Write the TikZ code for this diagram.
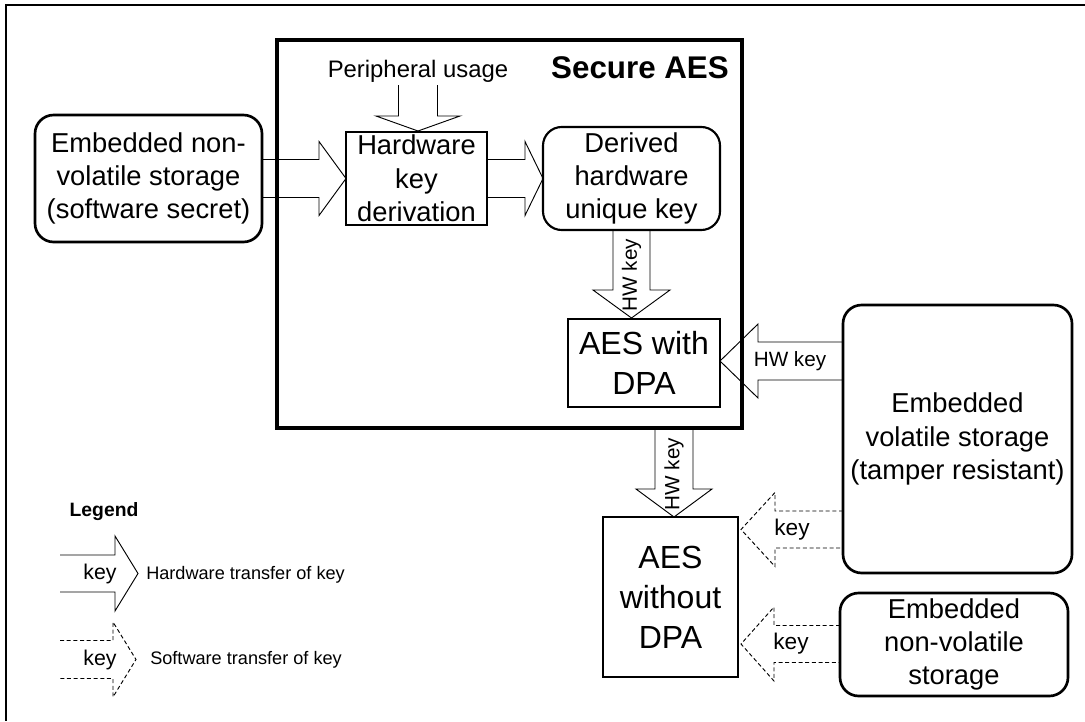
\documentclass[tikz,border=0pt]{standalone}
\usepackage{fontspec}
\setmainfont{Liberation Sans}
\newcommand{\harrow}[7]{\draw[#7] (#1,#4-#5) -- (#3,#4-#5) -- (#3,#4-#6) -- (#2,#4) -- (#3,#4+#6) -- (#3,#4+#5) -- (#1,#4+#5);}
\newcommand{\varrow}[7]{\draw[#7] (#4-#5,#1) -- (#4-#5,#3) -- (#4-#6,#3) -- (#4,#2) -- (#4+#6,#3) -- (#4+#5,#3) -- (#4+#5,#1);}
\begin{document}
\begin{tikzpicture}[x=0.75pt,y=-0.75pt,
  txt/.style={font=\fontsize{20.5pt}{25pt}\selectfont,align=center,inner sep=0pt},
  big/.style={font=\fontsize{24pt}{30pt}\selectfont,align=center,inner sep=0pt},
  rbox/.style={draw,line width=2pt,rounded corners=14pt,inner sep=0pt},
  sbox/.style={draw,line width=2.2pt,inner sep=0pt},
  hw/.style={line width=0.7pt},
  sw/.style={line width=0.7pt,dash pattern=on 3pt off 2pt},
  lab/.style={font=\fontsize{15.5pt}{18pt}\selectfont,inner sep=0pt},
  leg/.style={font=\fontsize{13.6pt}{16pt}\selectfont,inner sep=0pt,anchor=west}]
\useasboundingbox (0,0) rectangle (1085,721);
\draw[line width=1.8pt] (1085,5) -- (6,5) -- (6,721);
% boxes
\node[sbox,line width=2.6pt,minimum width=348.75pt,minimum height=291pt] (sec) at (509.5,234) {};
\node[font=\bfseries\fontsize{23.5pt}{28pt}\selectfont,inner sep=0pt] (sectitle) at (640,68) {Secure AES};
\node[rbox,minimum width=170.25pt,minimum height=95.25pt,txt] (left) at (148.5,178.5) {Embedded non-\\volatile storage\\(software secret)};
\node[sbox,minimum width=105.75pt,minimum height=69.75pt,txt] (hkd) at (416.5,178.5) {Hardware\\key\\derivation};
\node[rbox,line width=1.6pt,minimum width=132.75pt,minimum height=77.25pt,txt] (der) at (631.5,178.5) {Derived\\hardware\\unique key};
\node[sbox,minimum width=114pt,minimum height=66pt,big] (dpa) at (644,363) {AES with\\DPA};
\node[rbox,minimum width=171.75pt,minimum height=201pt,txt] (tam) at (957.5,439) {Embedded\\volatile storage\\(tamper resistant)};
\node[sbox,minimum width=101.25pt,minimum height=120pt,big] (nodpa) at (670.5,597) {AES\\without\\DPA};
\node[rbox,minimum width=171pt,minimum height=77.25pt,txt] (nv) at (954,644.5) {Embedded\\non-volatile\\storage};
\node[font=\fontsize{17.9pt}{20pt}\selectfont,inner sep=0pt] (periph) at (418,71) {Peripheral usage};
% arrows
\harrow{262}{346}{319}{178.5}{19}{37}{hw}
\harrow{487}{543}{525}{178.5}{19}{37}{hw}
\varrow{85}{131}{116}{418}{19.5}{42}{hw}
\varrow{230}{318}{290}{631.5}{18.5}{38.5}{hw}
\harrow{843}{720}{758}{361}{19}{37}{hw}
\varrow{428}{517}{489}{674}{19}{38}{hw}
\harrow{843}{741}{775}{529.5}{18.5}{37}{sw}
\harrow{840}{741}{774}{644}{18.5}{37}{sw}
\node[lab,rotate=90] (l1) at (631.5,275) {HW key};
\node[lab,rotate=90] (l2) at (674,474) {HW key};
\node[lab] (l3) at (790,361) {HW key};
\node[lab,font=\fontsize{17pt}{20pt}\selectfont] (l4) at (792,530) {key};
\node[lab,font=\fontsize{17pt}{20pt}\selectfont] (l5) at (791,644) {key};
% legend
\node[font=\bfseries\fontsize{14.5pt}{17pt}\selectfont,inner sep=0pt] (legend) at (104,512) {Legend};
\harrow{60}{138}{115}{573.5}{18.5}{37.5}{hw}
\harrow{60}{136}{113}{659.5}{19}{37.5}{sw}
\node[lab,font=\fontsize{16pt}{18pt}\selectfont] (k1) at (100,574) {key};
\node[lab,font=\fontsize{16pt}{18pt}\selectfont] (k2) at (100,660) {key};
\node[leg] (t1) at (146,575) {Hardware transfer of key};
\node[leg] (t2) at (150,660) {Software transfer of key};
\end{tikzpicture}
\end{document}
